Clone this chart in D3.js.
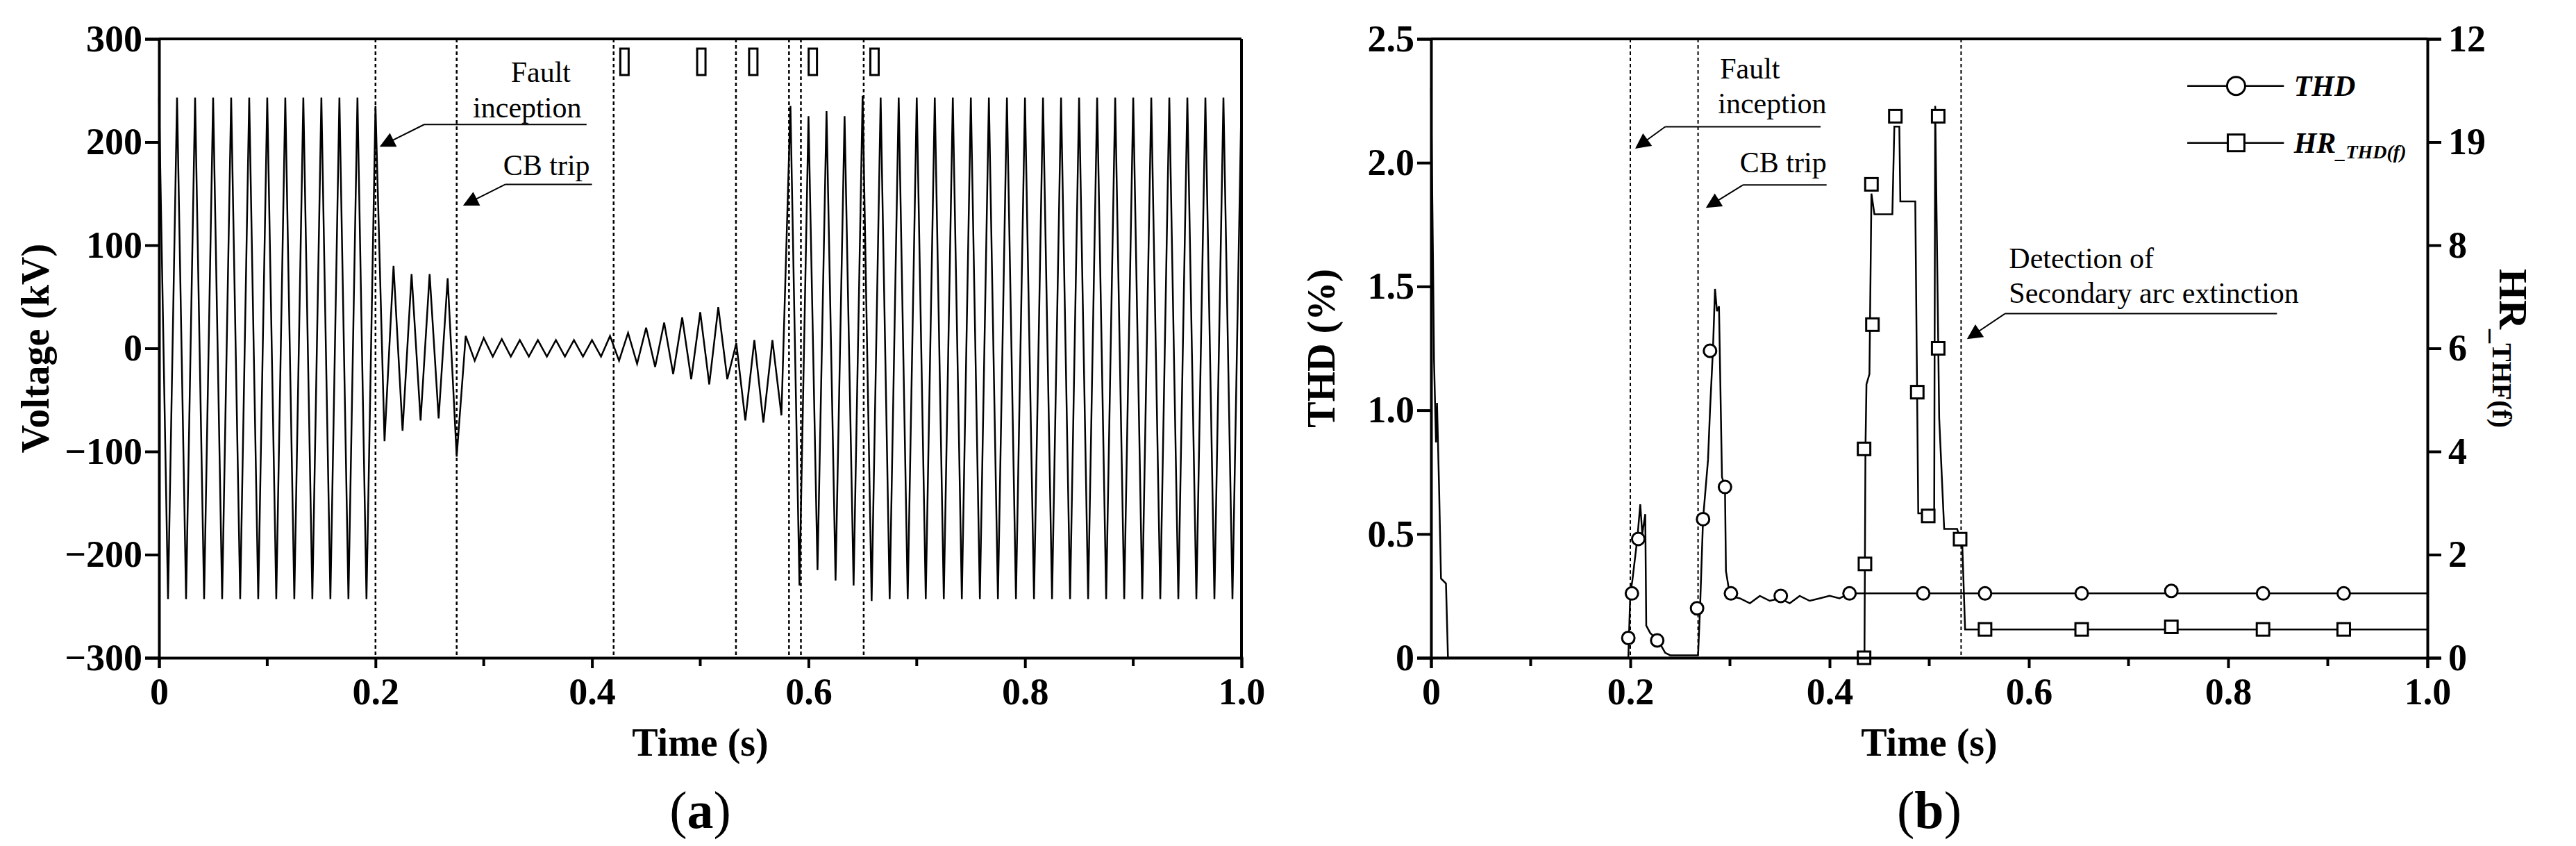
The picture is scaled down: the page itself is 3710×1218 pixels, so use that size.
<!doctype html>
<html lang="en">
<head>
<meta charset="utf-8">
<title>Voltage and THD</title>
<style>
body { margin: 0; background: #fff; }
svg { font-family: "Liberation Serif", "Times New Roman", serif; }
.tick text { font-family: "Liberation Serif", "Times New Roman", serif; font-weight: bold; font-size: 54px; }
.domain, .tick line { stroke: #000; stroke-width: 4; }
</style>
</head>
<body>
<svg id="fig" width="3710" height="1218"></svg>
<script src="https://cdnjs.cloudflare.com/ajax/libs/d3/7.8.5/d3.min.js"></script>
<script>
// (a) voltage: extreme value of every half cycle (60 Hz -> one value every 1/120 s)
var halfCycle = 1 / 120;
var voltPeaks = [
  243,-243,243,-243,243,-243,243,-243,243,-243,243,-243,
  243,-243,243,-243,243,-243,243,-243,243,-243,243,-243,
  235,-90,80,-80,72,-70,72,-68,68,-105,
  12,-12,10,-8,9,-8,8,-8,8,-8,8,-8,8,-8,8,-8,
  12,-12,15,-15,20,-18,25,-25,30,-30,35,-35,40,-30,
  5,-70,8,-72,8,-65,
  235,-230,225,-215,230,-225,225,-230,245,-245,
  243,-243,243,-243,243,-243,243,-243,243,-243,243,-243,243,-243,243,-243,243,-243,243,-243,
  243,-243,243,-243,243,-243,243,-243,243,-243,243,-243,243,-243,243,-243,243,-243,243,-243,
  243
];
var eventLinesA = [0.2, 0.275, 0.42, 0.533, 0.582, 0.593, 0.651];
var markTimesA = [0.43, 0.501, 0.549, 0.604, 0.661];

// (b) THD (%) trace and markers
var thdT = [0,0.002,0.003,0.005,0.006,0.008,0.01,0.015,0.017,0.198,0.2,0.202,0.207,0.21,0.212,0.215,0.216,0.22,0.228,0.235,0.24,0.268,
  0.27,0.273,0.278,0.28,0.283,0.285,0.287,0.289,0.292,0.295,0.296,0.3,0.31,0.32,0.33,0.34,0.35,0.36,0.37,0.38,0.39,0.4,0.41,0.42,1.0];
var thdV = [2.3,1.6,1.2,0.87,1.03,0.7,0.32,0.3,0,0,0.26,0.31,0.48,0.62,0.5,0.58,0.13,0.1,0.07,0.02,0.01,0.01,
  0.2,0.56,0.8,1.0,1.25,1.49,1.4,1.42,0.73,0.69,0.35,0.25,0.24,0.22,0.25,0.23,0.24,0.22,0.25,0.23,0.24,0.25,0.24,0.26,0.26];
var thdMarkT = [0.198,0.2016,0.208,0.227,0.267,0.273,0.28,0.295,0.301,0.351,0.42,0.494,0.556,0.653,0.743,0.835,0.916];
var thdMarkV = [0.08,0.26,0.48,0.07,0.2,0.56,1.24,0.69,0.26,0.25,0.26,0.26,0.26,0.26,0.27,0.26,0.26];

// (b) HR_THD(f) trace and markers (right axis)
var hrT = [0,0.435,0.436,0.437,0.44,0.442,0.445,0.463,0.465,0.47,0.471,0.486,0.489,0.505,0.506,0.51,0.515,0.528,0.531,0.533,0.536,1.0];
var hrV = [0,0,4.05,5.3,5.5,9.0,8.6,8.6,10.3,10.3,8.85,8.85,2.8,2.8,10.7,4.65,2.5,2.5,2.3,2.3,0.55,0.55];
var hrMarkT = [0.4346,0.4346,0.4355,0.442,0.443,0.466,0.488,0.499,0.509,0.509,0.531,0.556,0.653,0.743,0.835,0.916];
var hrMarkV = [0,4.05,1.82,9.18,6.46,10.5,5.15,2.75,10.5,6.0,2.3,0.55,0.55,0.6,0.55,0.55];
var eventLinesB = [0.2, 0.268, 0.532];

var xTicks = [0, 0.2, 0.4, 0.6, 0.8, 1.0];
var xMinor = [0.1, 0.3, 0.5, 0.7, 0.9];
var voltTicks = [-300, -200, -100, 0, 100, 200, 300];
var thdTicks = [0, 0.5, 1.0, 1.5, 2.0, 2.5];
var hrTicks = [0, 2, 4, 6, 8, 10, 12];
var hrTickLabels = ["0", "2", "4", "6", "8", "19", "12"];

var svg = d3.select("#fig");

function minorTicks(g, x, y0) {
  g.selectAll(".minor").data(xMinor).enter().append("line")
    .attr("x1", x).attr("x2", x).attr("y1", y0).attr("y2", y0 + 12)
    .attr("stroke", "#000").attr("stroke-width", 4);
}

function arrowNote(g, tip, elbow, end) {
  g.append("path").attr("d", d3.line()([elbow, end])).attr("stroke", "#000").attr("stroke-width", 2).attr("fill", "none");
  g.append("path").attr("d", d3.line()([elbow, tip])).attr("stroke", "#000").attr("stroke-width", 2)
    .attr("fill", "none").attr("marker-end", "url(#arr)");
}

svg.append("defs").append("marker").attr("id", "arr").attr("viewBox", "-12 -7 24 24")
  .attr("refX", 9).attr("refY", 5).attr("markerWidth", 24).attr("markerHeight", 24)
  .attr("markerUnits", "userSpaceOnUse").attr("orient", "auto")
  .append("path").attr("d", "M0,0 L10,5 L0,10 z").attr("transform", "scale(2.2) translate(-5,-2.7)");

// ---------- panel (a) ----------
var xa = d3.scaleLinear().domain([0, 1]).range([229, 1788]);
var ya = d3.scaleLinear().domain([-300, 300]).range([947, 56]);
var ga = svg.append("g");

ga.selectAll(".ev").data(eventLinesA).enter().append("line")
  .attr("x1", xa).attr("x2", xa).attr("y1", ya(300)).attr("y2", ya(-300))
  .attr("stroke", "#000").attr("stroke-width", 2.5).attr("stroke-dasharray", "5,4");

ga.selectAll(".mk").data(markTimesA).enter().append("rect")
  .attr("x", function(d) { return xa(d) - 6; }).attr("y", 70).attr("width", 12).attr("height", 38)
  .attr("fill", "none").attr("stroke", "#000").attr("stroke-width", 3);

ga.append("path").datum(voltPeaks)
  .attr("d", d3.line().x(function(d, i) { return xa(i * halfCycle); }).y(function(d) { return ya(d); }))
  .attr("fill", "none").attr("stroke", "#000").attr("stroke-width", 2.5);

ga.append("g").attr("transform", "translate(0," + ya(-300) + ")")
  .call(d3.axisBottom(xa).tickValues(xTicks).tickFormat(function(d) { return d === 1 ? "1.0" : d === 0 ? "0" : d3.format(".1f")(d); }).tickSize(15).tickPadding(14));
ga.append("g").attr("transform", "translate(" + xa(0) + ",0)")
  .call(d3.axisLeft(ya).tickValues(voltTicks).tickFormat(d3.format("d")).tickSize(20).tickPadding(4));
ga.append("line").attr("x1", xa(0)).attr("x2", xa(1)).attr("y1", ya(300)).attr("y2", ya(300)).attr("stroke", "#000").attr("stroke-width", 4);
ga.append("line").attr("x1", xa(1)).attr("x2", xa(1)).attr("y1", ya(300)).attr("y2", ya(-300)).attr("stroke", "#000").attr("stroke-width", 4);
minorTicks(ga, xa, ya(-300));

arrowNote(ga, [xa(0.205), ya(196)], [xa(0.245), ya(217)], [xa(0.395), ya(217)]);
arrowNote(ga, [xa(0.282), ya(139)], [xa(0.32), ya(159)], [xa(0.4), ya(159)]);
ga.append("text").attr("x", xa(0.325)).attr("y", ya(258)).attr("font-size", 42).text("Fault");
ga.append("text").attr("x", xa(0.29)).attr("y", ya(224)).attr("font-size", 42).text("inception");
ga.append("text").attr("x", xa(0.318)).attr("y", ya(168)).attr("font-size", 42).text("CB trip");

ga.append("text").attr("x", (xa(0) + xa(1)) / 2).attr("y", 1088).attr("text-anchor", "middle")
  .attr("font-size", 56).attr("font-weight", "bold").text("Time (s)");
ga.append("text").attr("transform", "translate(70," + ya(0) + ") rotate(-90)").attr("text-anchor", "middle")
  .attr("font-size", 56).attr("font-weight", "bold").text("Voltage (kV)");
ga.append("text").attr("x", (xa(0) + xa(1)) / 2).attr("y", 1192).attr("text-anchor", "middle")
  .attr("font-size", 76).html("(<tspan font-weight='bold'>a</tspan>)");

// ---------- panel (b) ----------
var xb = d3.scaleLinear().domain([0, 1]).range([2061, 3496]);
var yb = d3.scaleLinear().domain([0, 2.5]).range([947, 56]);
var yr = d3.scaleLinear().domain([0, 12]).range([947, 56]);
var gb = svg.append("g");

gb.selectAll(".ev").data(eventLinesB).enter().append("line")
  .attr("x1", xb).attr("x2", xb).attr("y1", yb(2.5)).attr("y2", yb(0))
  .attr("stroke", "#000").attr("stroke-width", 2).attr("stroke-dasharray", "5,4");

gb.append("path").datum(d3.zip(thdT, thdV))
  .attr("d", d3.line().x(function(d) { return xb(d[0]); }).y(function(d) { return yb(d[1]); }))
  .attr("fill", "none").attr("stroke", "#000").attr("stroke-width", 2.5);
gb.append("path").datum(d3.zip(hrT, hrV))
  .attr("d", d3.line().x(function(d) { return xb(d[0]); }).y(function(d) { return yr(d[1]); }))
  .attr("fill", "none").attr("stroke", "#000").attr("stroke-width", 2.5);

gb.selectAll(".cm").data(d3.zip(thdMarkT, thdMarkV)).enter().append("circle")
  .attr("cx", function(d) { return xb(d[0]); }).attr("cy", function(d) { return yb(d[1]); }).attr("r", 9)
  .attr("fill", "#fff").attr("stroke", "#000").attr("stroke-width", 3);
gb.selectAll(".sm").data(d3.zip(hrMarkT, hrMarkV)).enter().append("rect")
  .attr("x", function(d) { return xb(d[0]) - 9; }).attr("y", function(d) { return yr(d[1]) - 9; })
  .attr("width", 18).attr("height", 18)
  .attr("fill", "#fff").attr("stroke", "#000").attr("stroke-width", 3);

gb.append("g").attr("transform", "translate(0," + yb(0) + ")")
  .call(d3.axisBottom(xb).tickValues(xTicks).tickFormat(function(d) { return d === 1 ? "1.0" : d === 0 ? "0" : d3.format(".1f")(d); }).tickSize(15).tickPadding(14));
gb.append("g").attr("transform", "translate(" + xb(0) + ",0)")
  .call(d3.axisLeft(yb).tickValues(thdTicks).tickFormat(function(d) { return d === 0 ? "0" : d3.format(".1f")(d); }).tickSize(20).tickPadding(4));
gb.append("g").attr("transform", "translate(" + xb(1) + ",0)")
  .call(d3.axisRight(yr).tickValues(hrTicks).tickFormat(function(d, i) { return hrTickLabels[i]; }).tickSize(20).tickPadding(10));
gb.append("line").attr("x1", xb(0)).attr("x2", xb(1)).attr("y1", yb(2.5)).attr("y2", yb(2.5)).attr("stroke", "#000").attr("stroke-width", 4);
minorTicks(gb, xb, yb(0));

arrowNote(gb, [xb(0.206), yb(2.06)], [xb(0.235), yb(2.145)], [xb(0.391), yb(2.145)]);
arrowNote(gb, [xb(0.277), yb(1.82)], [xb(0.313), yb(1.91)], [xb(0.397), yb(1.91)]);
arrowNote(gb, [xb(0.539), yb(1.29)], [xb(0.576), yb(1.39)], [xb(0.849), yb(1.39)]);
gb.append("text").attr("x", xb(0.29)).attr("y", yb(2.34)).attr("font-size", 42).text("Fault");
gb.append("text").attr("x", xb(0.288)).attr("y", yb(2.2)).attr("font-size", 42).text("inception");
gb.append("text").attr("x", xb(0.31)).attr("y", yb(1.96)).attr("font-size", 42).text("CB trip");
gb.append("text").attr("x", xb(0.58)).attr("y", yb(1.575)).attr("font-size", 42).text("Detection of");
gb.append("text").attr("x", xb(0.58)).attr("y", yb(1.435)).attr("font-size", 42).text("Secondary arc extinction");

// legend
var legend = [{y: 2.31, shape: "circle", label: "THD"}, {y: 2.08, shape: "square", label: "HR", sub: "_THD(f)"}];
legend.forEach(function(l) {
  var cy = yb(l.y);
  gb.append("line").attr("x1", xb(0.759)).attr("x2", xb(0.856)).attr("y1", cy).attr("y2", cy).attr("stroke", "#000").attr("stroke-width", 2.5);
  if (l.shape === "circle") {
    gb.append("circle").attr("cx", xb(0.808)).attr("cy", cy).attr("r", 13).attr("fill", "#fff").attr("stroke", "#000").attr("stroke-width", 3);
  } else {
    gb.append("rect").attr("x", xb(0.808) - 12).attr("y", cy - 12).attr("width", 24).attr("height", 24).attr("fill", "#fff").attr("stroke", "#000").attr("stroke-width", 3);
  }
  var t = gb.append("text").attr("x", xb(0.866)).attr("y", cy + 14).attr("font-size", 42).attr("font-style", "italic").attr("font-weight", "bold");
  t.append("tspan").text(l.label);
  if (l.sub) t.append("tspan").attr("font-size", 28).attr("dy", 8).text(l.sub);
});

gb.append("text").attr("x", (xb(0) + xb(1)) / 2).attr("y", 1088).attr("text-anchor", "middle")
  .attr("font-size", 56).attr("font-weight", "bold").text("Time (s)");
gb.append("text").attr("transform", "translate(1922," + yb(1.25) + ") rotate(-90)").attr("text-anchor", "middle")
  .attr("font-size", 56).attr("font-weight", "bold").text("THD (%)");
var rl = gb.append("text").attr("transform", "translate(3600," + yr(6) + ") rotate(90)").attr("text-anchor", "middle")
  .attr("font-weight", "bold");
rl.append("tspan").attr("font-size", 58).text("HR");
rl.append("tspan").attr("font-size", 40).attr("dy", 10).text("_THF(f)");
gb.append("text").attr("x", (xb(0) + xb(1)) / 2).attr("y", 1192).attr("text-anchor", "middle")
  .attr("font-size", 76).html("(<tspan font-weight='bold'>b</tspan>)");
</script>
</body>
</html>
